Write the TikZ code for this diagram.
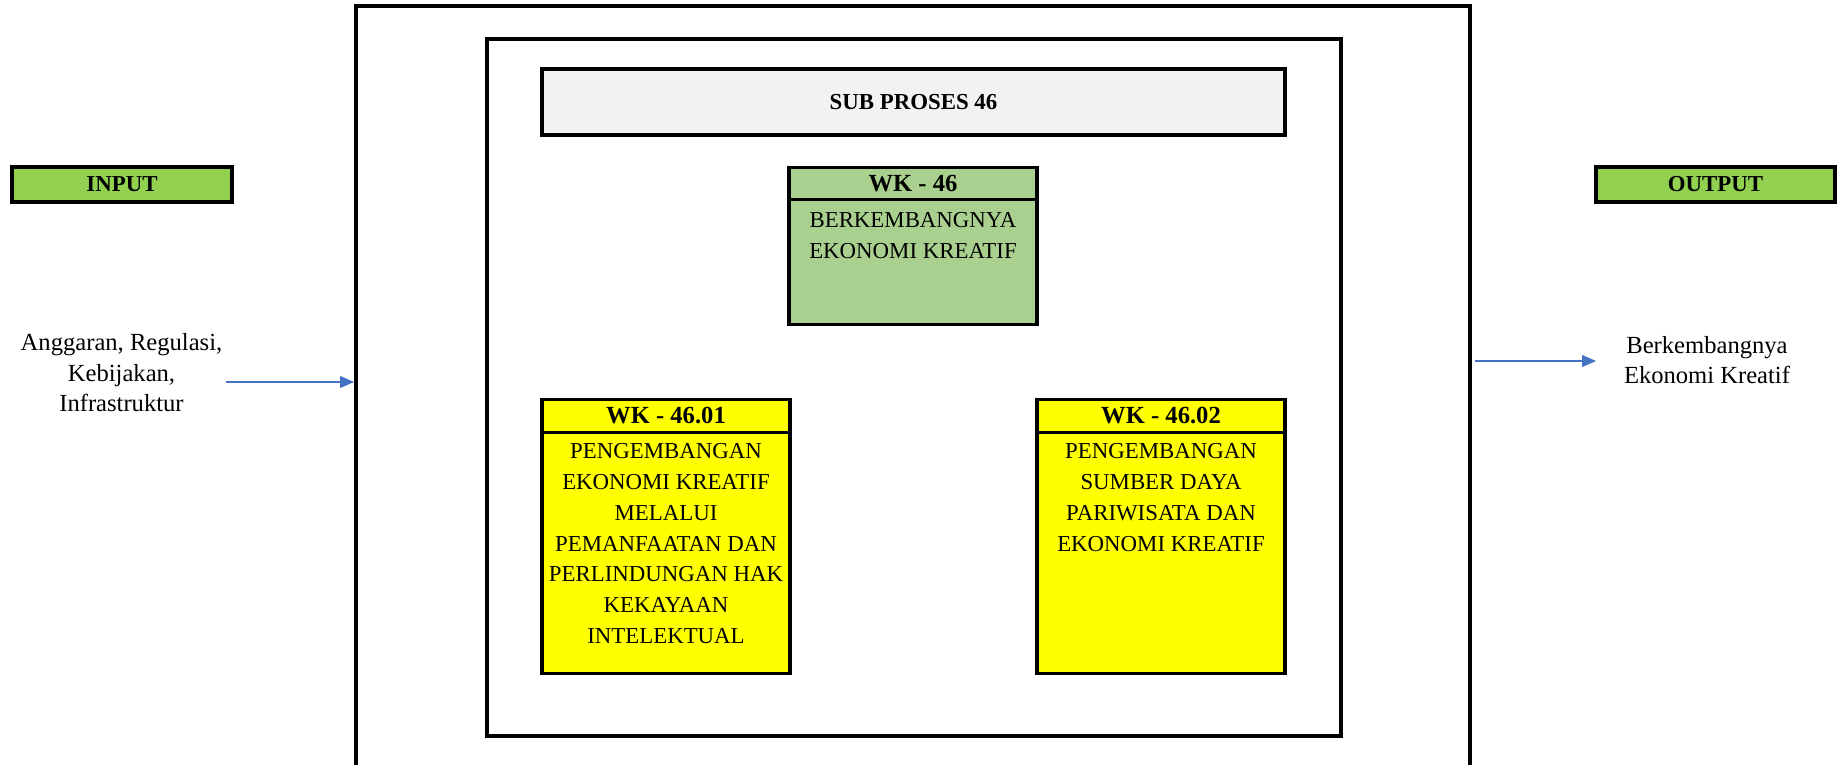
\documentclass[tikz,border=0pt]{standalone}
\usepackage{fontspec}
\setmainfont{Liberation Serif}
\usepackage{xcolor}
\usepackage{tikz}
\usetikzlibrary{positioning,arrows.meta}

\definecolor{ioGreen}{HTML}{92D050}
\definecolor{wkGreen}{HTML}{A9D08E}
\definecolor{wkYellow}{HTML}{FFFF00}
\definecolor{subGray}{HTML}{F2F2F2}
\definecolor{arrBlue}{HTML}{4472C4}

\begin{document}
\begin{tikzpicture}[
  every node/.style={align=center, inner sep=2pt},
  box/.style   ={draw, line width=1.9pt, outer sep=0pt},
  frame/.style ={box, minimum width=170.8mm, minimum height=139.4mm},
  sub/.style   ={box, fill=subGray, minimum width=148.6mm, minimum height=13.2mm,
                 font=\fontsize{13}{16}\selectfont\bfseries},
  io/.style    ={box, fill=ioGreen, minimum height=7mm,
                 font=\fontsize{13}{16}\selectfont\bfseries},
  head/.style  ={box, minimum width=49.6mm, minimum height=6.5mm,
                 font=\fontsize{14}{17}\selectfont\bfseries},
  body/.style  ={box, minimum width=49.6mm},
  btxt/.style  ={anchor=north, font=\fontsize{13}{17.6}\selectfont},
  side/.style  ={font=\fontsize{14}{17.4}\selectfont},
  arr/.style   ={-{Triangle[length=2.8mm,width=2.4mm]}, draw=arrBlue, fill=arrBlue,
                 line width=0.6pt}
]
\useasboundingbox (0,0) rectangle (36.88,-15.3);

% --- Outer process frame (open at the bottom) ---
\coordinate (fTL) at (7.12,-0.12);
\coordinate (fTR) at (29.40,-0.12);
\draw[line width=1.9pt] (fTL |- 0,-15.3) -- (fTL) -- (fTR) -- (fTR |- 0,-15.3);

% --- Inner frame and title ---
\node[frame] (inner) at (18.28,-7.75) {};
\node[sub] (subp) at (18.27,-2.04) {SUB PROSES 46};

% --- Input / output headings ---
\node[io, minimum width=44mm] (inHd)  at (2.44,-3.69)  {INPUT};
\node[io, minimum width=47.8mm] (outHd) at (34.31,-3.69) {OUTPUT};

% --- WK 46 ---
\node[head, fill=wkGreen] (wk) at (18.26,-3.67) {WK - 46};
\node[body, fill=wkGreen, minimum height=25mm, below=0pt of wk] (wkB) {};
\node[btxt] (wkT) at ([yshift=-1.8mm]wkB.north)
  {BERKEMBANGNYA\\EKONOMI KREATIF};

% --- WK 46.01 ---
\node[head, fill=wkYellow] (wkA) at (13.32,-8.32) {WK - 46.01};
\node[body, fill=wkYellow, minimum height=48.2mm, below=0pt of wkA] (wkAB) {};
\node[btxt] (wkAT) at ([yshift=-1.4mm]wkAB.north)
  {PENGEMBANGAN\\EKONOMI KREATIF\\MELALUI\\PEMANFAATAN DAN\\PERLINDUNGAN HAK\\KEKAYAAN\\INTELEKTUAL};

% --- WK 46.02 ---
\node[head, fill=wkYellow] (wkC) at (23.22,-8.32) {WK - 46.02};
\node[body, fill=wkYellow, minimum height=48.2mm, below=0pt of wkC] (wkCB) {};
\node[btxt] (wkCT) at ([yshift=-1.4mm]wkCB.north)
  {PENGEMBANGAN\\SUMBER DAYA\\PARIWISATA DAN\\EKONOMI KREATIF};

% --- Side texts and arrows ---
\node[side] (inTx)  at (2.43,-7.46)  {Anggaran, Regulasi,\\Kebijakan,\\Infrastruktur};
\node[side] (outTx) at (34.14,-7.20) {Berkembangnya\\Ekonomi Kreatif};

\coordinate (inEnd)    at (7.08,-7.64);
\coordinate (outStart) at (29.50,-7.22);
\coordinate (outEnd)   at (31.92,-7.22);
\draw[arr] (inTx.east |- inEnd) -- (inEnd);
\draw[arr] (outStart) -- (outEnd);

\end{tikzpicture}
\end{document}
